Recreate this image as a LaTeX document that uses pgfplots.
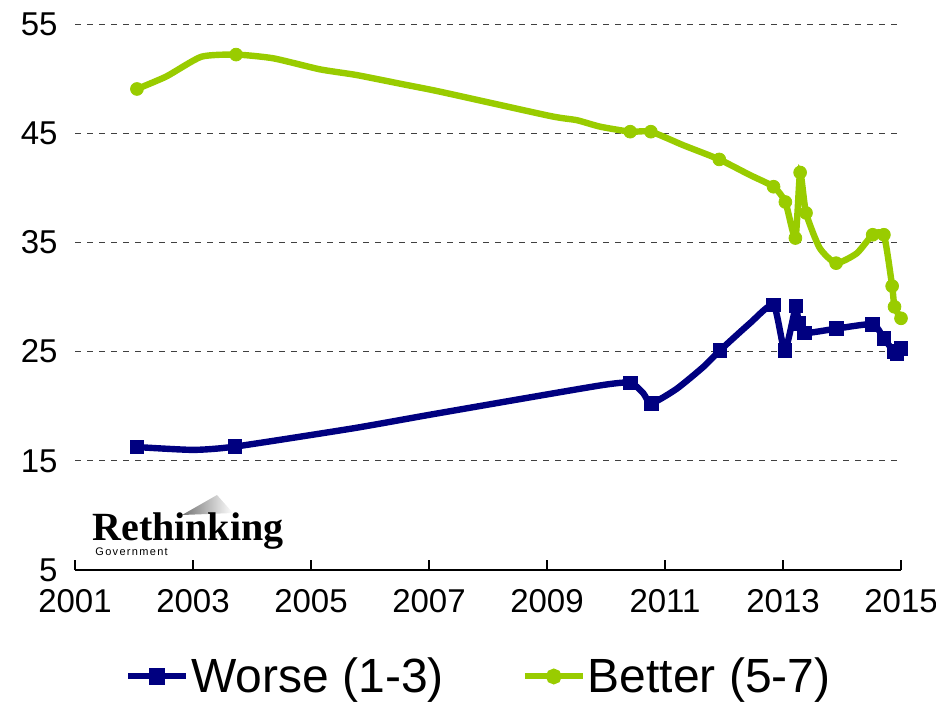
\documentclass[border=0pt]{standalone}
\usepackage{pgfplots}
\pgfplotsset{compat=1.18}
\usepackage{pgfplotstable}
\usepackage{fontspec}
\setmainfont{Liberation Sans}
\newfontfamily\logofont{Liberation Serif}
\definecolor{worse}{HTML}{000080}
\definecolor{better}{HTML}{99CC00}

% full curves (marker points plus points)
\pgfplotstableread{
year  val
2002.05 49.05
2002.55 50.2
2003.14 52.0
2003.73 52.2
2004.36 51.86
2005.15 50.85
2005.77 50.33
2006.56 49.48
2007.19 48.8
2009.05 46.58
2009.50 46.2
2009.90 45.6
2010.41 45.14
2010.76 45.14
2011.31 43.9
2011.92 42.6
2012.44 41.17
2012.84 40.1
2013.04 38.7
2013.21 35.4
2013.29 41.4
2013.39 37.7
2013.62 34.5
2013.90 33.1
2014.25 34.0
2014.52 35.7
2014.71 35.7
2014.85 31.0
2014.89 29.1
2015.00 28.05
}\betterline

\pgfplotstableread{
year  val
2002.05 49.05
2003.73 52.2
2010.41 45.14
2010.76 45.14
2011.92 42.6
2012.84 40.1
2013.04 38.7
2013.21 35.4
2013.29 41.4
2013.39 37.7
2013.90 33.1
2014.52 35.7
2014.71 35.7
2014.85 31.0
2014.89 29.1
2015.00 28.05
}\bettermarks

\pgfplotstableread{
year  val
2002.05 16.26
2003.00 16.0
2003.71 16.3
2005.72 17.98
2007.10 19.3
2009.84 21.85
2010.41 22.15
2010.63 21.2
2010.77 20.26
2011.20 21.6
2011.65 23.6
2011.93 25.1
2012.44 27.6
2012.84 29.27
2013.03 25.1
2013.22 29.2
2013.26 27.6
2013.36 26.7
2013.90 27.1
2014.52 27.5
2014.71 26.2
2014.88 25.0
2014.93 24.8
2015.00 25.3
}\worseline

\pgfplotstableread{
year  val
2002.05 16.26
2003.71 16.3
2010.41 22.15
2010.77 20.26
2011.93 25.1
2012.84 29.27
2013.03 25.1
2013.22 29.2
2013.26 27.6
2013.36 26.7
2013.90 27.1
2014.52 27.5
2014.71 26.2
2014.88 25.0
2014.93 24.8
2015.00 25.3
}\worsemarks

\begin{document}
\begin{tikzpicture}
\useasboundingbox (-37.5pt,-66.5pt) rectangle (430.5pt,285pt);
% logo
\shade[left color=black!55, right color=white] (53.5pt,27.5pt) -- (71pt,37.5pt) -- (79pt,28.5pt) -- cycle;
\node[anchor=base west, inner sep=0pt, font=\logofont\bfseries\fontsize{20}{20}\selectfont] at (8.5pt,15pt) {Rethinking};
\node[anchor=base west, inner sep=0pt, font=\fontsize{5.5}{6}\selectfont\addfontfeature{LetterSpace=12}] at (10pt,7.3pt) {Government};
\begin{axis}[
  at={(0,0)}, anchor=south west,
  scale only axis, width=413pt, height=273pt,
  xmin=2001, xmax=2015, ymin=5, ymax=55,
  clip=false,
  axis x line*=bottom, axis y line*=left,
  x axis line style={line width=1pt, black},
  y axis line style={draw=none},
  ytick={5,15,25,35,45,55},
  xtick={2001,2003,...,2015},
  ytick style={draw=none},
  xtick style={line width=1pt, black},
  tick align=inside, major tick length=5pt,
  ymajorgrids,
  grid style={black!75, line width=0.5pt, dash pattern=on 3pt off 3pt},
  /pgf/number format/assume math mode=true,
  /pgf/number format/1000 sep={},
  tick label style={font=\fontsize{16.5}{18}\selectfont},
  yticklabel style={xshift=-8.5pt, inner sep=0pt},
  xticklabel style={yshift=-9.5pt, inner sep=0pt},
  legend columns=2,
  legend style={draw=none, fill=none, at={(0.489,-0.195)}, anchor=center,
    inner sep=1pt, font=\fontsize{24}{26}\selectfont,
    nodes={inner sep=1pt},
    /tikz/every even column/.append style={column sep=38pt}},
  legend image code/.code={%
    \draw[#1, mark repeat=2, mark phase=2] plot coordinates {(0pt,0pt) (14.5pt,0pt) (29pt,0pt)};},
]
\addplot[worse, line width=3.2pt, smooth, tension=0.35, forget plot] table[x=year, y=val] {\worseline};
\addplot[only marks, worse, mark=square*, mark size=3.4pt, forget plot] table[x=year, y=val] {\worsemarks};
\addplot[better, line width=3.2pt, smooth, tension=0.35, forget plot] table[x=year, y=val] {\betterline};
\addplot[only marks, better, mark=*, mark size=3.2pt, forget plot] table[x=year, y=val] {\bettermarks};
\addlegendimage{worse, line width=3pt, mark=square*, mark size=2.6pt, mark options={solid}}
\addlegendentry{Worse (1-3)}
\addlegendimage{better, line width=3pt, mark=*, mark size=2.4pt}
\addlegendentry{Better (5-7)}
\end{axis}
\end{tikzpicture}
\end{document}
